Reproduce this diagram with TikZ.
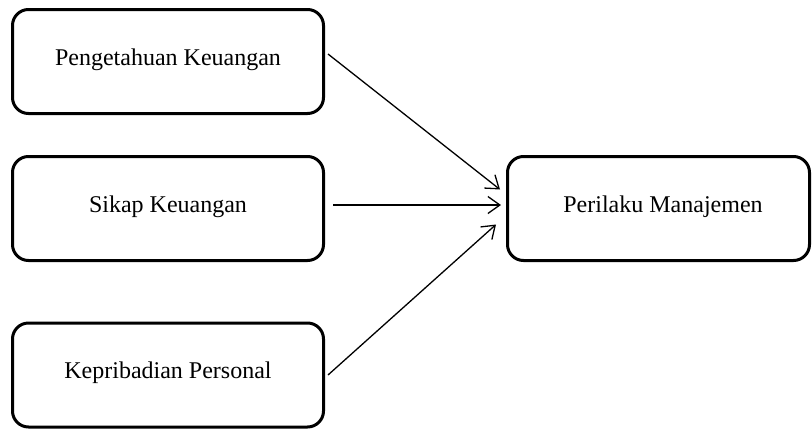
\documentclass[tikz,border=0pt]{standalone}
\usepackage{fontspec}
\setmainfont{Liberation Serif}
\usetikzlibrary{arrows.meta,calc}
\begin{document}
\begin{tikzpicture}[x=1pt,y=1pt,
  box/.style={draw=black,line width=3pt,rounded corners=16pt,inner sep=0pt,
    minimum width=311pt,minimum height=104pt,
    font=\fontsize{24}{28}\selectfont,text height=17pt,text depth=10pt},
  conn/.style={line width=1.3pt,-{Straight Barb[length=12pt,width=17pt,line width=1.3pt]}}]
\useasboundingbox (0,0) rectangle (812,-429);
\node[box] (p1) at (168,-61.5) {Pengetahuan Keuangan};
\node[box] (p2) at (168,-208.5) {Sikap Keuangan};
\node[box] (p3) at (168,-375) {Kepribadian Personal};
\node[box,minimum width=302pt] (pm) at (658.5,-208.5) {\hspace*{9pt}Perilaku Manajemen};
\draw[conn] ($(p1.east)+(3,7.5)$) -- ($(pm.west)+(-6,19)$);
\draw[conn] ($(p2.east)+(8,3.5)$) -- ($(pm.west)+(-5,3.5)$);
\draw[conn] ($(p3.east)+(3,0)$) -- ($(pm.west)+(-10,-16)$);
\end{tikzpicture}
\end{document}
